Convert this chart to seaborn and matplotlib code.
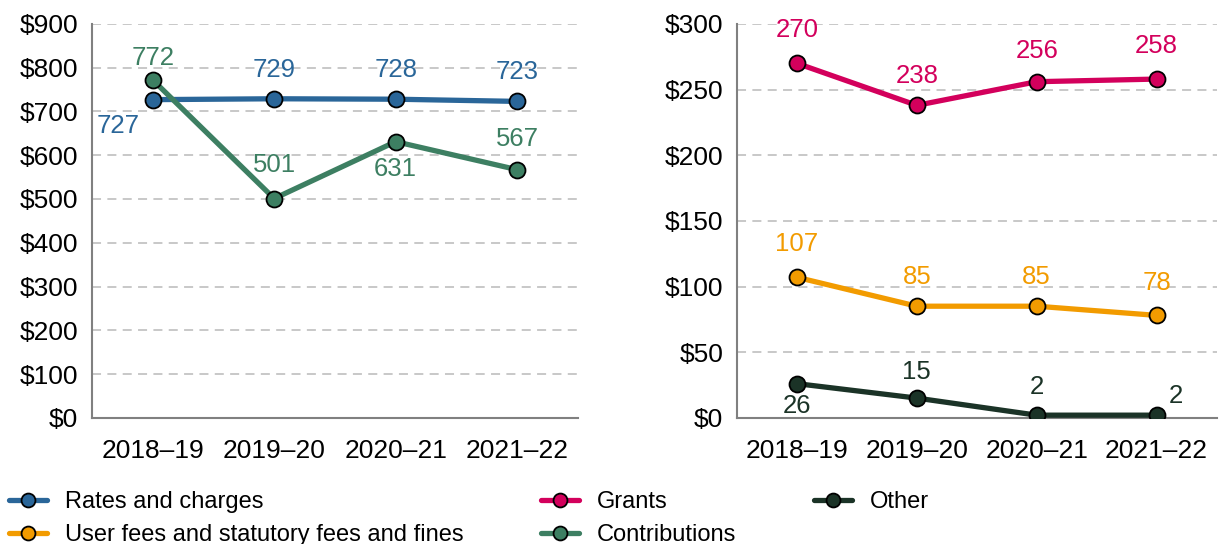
import matplotlib
matplotlib.use("Agg")
import matplotlib.pyplot as plt
import seaborn as sns
import pandas as pd
from matplotlib.lines import Line2D

years = ["2018\u201319", "2019\u201320", "2020\u201321", "2021\u201322"]

rates = [727, 729, 728, 723]
contributions = [772, 501, 631, 567]
grants = [270, 238, 256, 258]
user_fees = [107, 85, 85, 78]
other = [26, 15, 2, 2]

left_ticks = [0, 100, 200, 300, 400, 500, 600, 700, 800, 900]
right_ticks = [0, 50, 100, 150, 200, 250, 300]

colors = {
    "Rates and charges": "#2A6699",
    "Contributions": "#3D7F62",
    "Grants": "#D3005C",
    "User fees and statutory fees and fines": "#F29B00",
    "Other": "#1B3327",
}

sns.set_theme(style="white")
plt.rcParams["font.family"] = ["Liberation Sans", "DejaVu Sans"]
plt.rcParams["text.color"] = "black"

fig = plt.figure(figsize=(12.19, 5.44), dpi=100)
axL = fig.add_axes([0.0755, 0.232, 0.3985, 0.724])
axR = fig.add_axes([0.6046, 0.232, 0.3934, 0.724])

def draw(ax, series):
    rows = []
    for name, vals in series:
        for y, v in zip(years, vals):
            rows.append({"year": y, "value": v, "series": name})
    df = pd.DataFrame(rows)
    sns.lineplot(data=df, x="year", y="value", hue="series", sort=False,
                 palette={n: colors[n] for n, _ in series},
                 hue_order=[n for n, _ in series],
                 marker="o", markersize=11.5, markeredgecolor="black",
                 markeredgewidth=1.3, linewidth=3.8, legend=False, ax=ax,
                 zorder=3)

draw(axL, [("Rates and charges", rates), ("Contributions", contributions)])
draw(axR, [("Grants", grants), ("User fees and statutory fees and fines", user_fees), ("Other", other)])

def style(ax, ticks, ymax):
    ax.set_xlim(-0.5, 3.5)
    ax.set_ylim(0, ymax)
    ax.set_yticks(ticks)
    ax.set_yticklabels([f"${t}" for t in ticks])
    ax.set_xticks([0, 1, 2, 3, 3.5])
    ax.set_xticklabels(years + [""])
    ax.set_xlabel("")
    ax.set_ylabel("")
    for t in ticks[1:]:
        ax.axhline(t, color="#C4C4C4", linestyle=(0, (5, 3.5)), linewidth=1.3, zorder=1)
    for s in ["top", "right"]:
        ax.spines[s].set_visible(False)
    for s in ["left", "bottom"]:
        ax.spines[s].set_color("#808080")
        ax.spines[s].set_linewidth(1.5)
    ax.tick_params(axis="both", which="both", length=6, width=1.5, color="#808080",
                   labelsize=19, labelcolor="black", direction="out")
    ax.tick_params(axis="x", pad=9)
    ax.tick_params(axis="y", pad=4)

style(axL, left_ticks, 900)
style(axR, right_ticks, 300)

def label(ax, vals, color, offsets):
    for i, (v, off) in enumerate(zip(vals, offsets)):
        ax.annotate(str(v), (i, v), xytext=off, textcoords="offset points",
                    ha="center", va="center", fontsize=18.5, color=color, zorder=5)

label(axL, rates, colors["Rates and charges"], [(-25, -19), (0, 21), (0, 21), (0, 21)])
label(axL, contributions, colors["Contributions"], [(0, 16), (0, 24), (0, -20), (0, 22)])
label(axR, grants, colors["Grants"], [(0, 24), (0, 21), (0, 22), (0, 24)])
label(axR, user_fees, colors["User fees and statutory fees and fines"], [(0, 24), (0, 21), (0, 21), (0, 23)])
label(axR, other, colors["Other"], [(0, -16), (0, 19), (0, 20), (14, 14)])

order = ["Rates and charges", "User fees and statutory fees and fines", "Grants", "Contributions", "Other"]
handles = [Line2D([0], [0], color=colors[n], lw=3.8, marker="o", markersize=10,
                  markeredgecolor="black", markeredgewidth=1.3, markerfacecolor=colors[n]) for n in order]
leg = fig.legend(handles, order, loc="lower left", bbox_to_anchor=(0.0, -0.021), ncol=3,
                 frameon=False, fontsize=17, handlelength=1.6, handletextpad=0.75,
                 columnspacing=3.3, labelspacing=0.45, borderaxespad=0.0)
for t in leg.get_texts():
    t.set_color("black")

fig.savefig("out.png", dpi=100)
